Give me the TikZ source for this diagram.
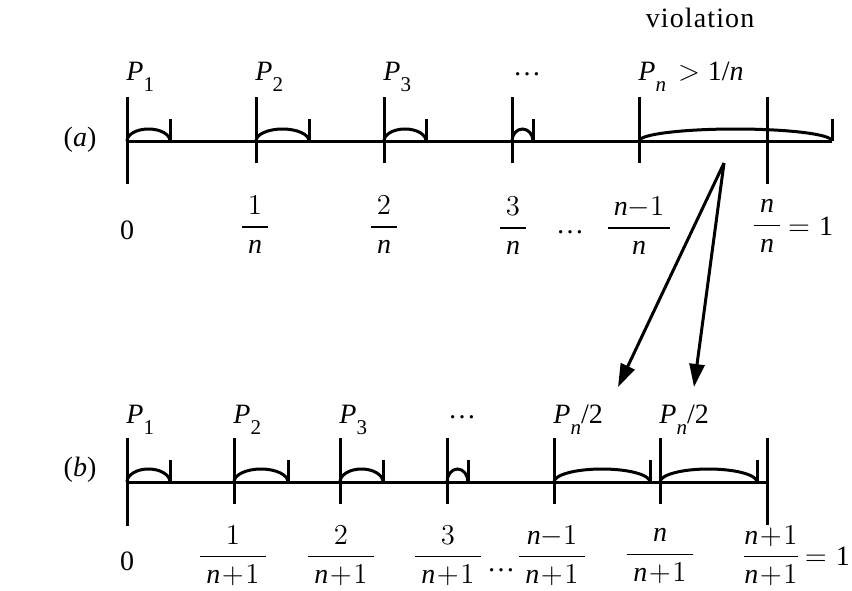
\documentclass[tikz,border=0pt]{standalone}
\usepackage{amsmath}
\usepackage{fontspec}
\setmainfont{Liberation Serif}
\usepackage{tikz}
\usetikzlibrary{arrows.meta, positioning}

\newcommand{\vn}{\textit{n}}
\newcommand{\np}{\vn\mkern1mu{+}\mkern1mu1}
\newcommand{\Psub}[1]{\textit{P}\raisebox{-0.42em}{\fontsize{10.5}{10.5}\selectfont #1}}
\newcommand{\fr}[2]{\dfrac{\hspace{3pt}#1\hspace{3pt}}{\hspace{3pt}#2\hspace{3pt}}}

\begin{document}
\begin{tikzpicture}[
    x=0.5pt, y=-0.5pt,
    axis/.style={line width=1.5pt},
    tick/.style={line width=1.5pt},
    hump/.style={line width=1.5pt},
    lbl/.style={font=\fontsize{14}{16}\selectfont, inner sep=0pt},
    link/.style={line width=1.5pt, -{Triangle[length=11.5pt, width=7.5pt]}}
]
    \useasboundingbox (0,0) rectangle (852,590);

    % (a) n equal cells, the last one overflows
    \draw[axis] (127,141) -- (832,141);
    \foreach \x in {127,256,384,512,639,767} \draw[tick] (\x,97) -- (\x,163);
    \draw[tick] (127,163) -- (127,184);
    \draw[tick] (767,163) -- (767,184);
    \foreach \a/\b in {127/170, 256/309, 384/426, 512/533, 639/832} {
        \draw[tick] (\b,119) -- (\b,141);
        \draw[hump] (\a,141) arc[start angle=180, end angle=360, x radius={(\b-\a)/2}, y radius=12];
    }

    \node[lbl] (caseA) at (80,140) {(\textit{a})};
    \node[lbl, anchor=base west] (pa1) at (126,80) {\Psub{1}};
    \node[lbl, anchor=base west] (pa2) at (255,80) {\Psub{2}};
    \node[lbl, anchor=base west] (pa3) at (383,80) {\Psub{3}};
    \node[lbl, anchor=base] (dotsA) at (527,75) {\dots};
    \node[lbl, anchor=base west] (pan) at (638,80) {\Psub{\vn}\hspace{6pt}$>$\hspace{4pt}1/\vn};
    \node[lbl, anchor=base] (viol) at (700,27) {\addfontfeature{LetterSpace=4}violation};

    \node[lbl] (fa0) at (127,230) {0};
    \node[lbl] (fa1) at (255,225) {$\fr{1}{\vn}$};
    \node[lbl] (fa2) at (384,225) {$\fr{2}{\vn}$};
    \node[lbl] (fa3) at (513,226) {$\fr{3}{\vn}$};
    \node[lbl, anchor=base] (fadots) at (570,233) {\dots};
    \node[lbl] (fan1) at (639,226) {$\fr{\vn{-}1}{\vn}$};
    \node[lbl] (fan) at (767,226) {$\fr{\vn}{\vn}$};
    \node[lbl, right=2.5pt of fan] (eqA) {$=$\hspace{4.5pt}1};

    % split arrows
    \coordinate (split) at (724,163);
    \coordinate (halfL) at (618,387);
    \coordinate (halfR) at (694,387);
    \draw[link] (split) -- (halfL);
    \draw[link] (split) -- (halfR);

    % (b) n+1 cells, P_n halved
    \draw[axis] (127,482) -- (767,482);
    \foreach \x in {127,234,340,447,554,660,767} \draw[tick] (\x,438) -- (\x,504);
    \draw[tick] (127,504) -- (127,526);
    \draw[tick] (767,504) -- (767,525);
    \foreach \a/\b in {127/170, 234/288, 340/383, 447/468, 554/650, 660/757} {
        \draw[tick] (\b,460) -- (\b,482);
        \draw[hump] (\a,482) arc[start angle=180, end angle=360, x radius={(\b-\a)/2}, y radius=13];
    }

    \node[lbl] (caseB) at (80,470) {(\textit{b})};
    \node[lbl, anchor=base west] (pb1) at (126,423) {\Psub{1}};
    \node[lbl, anchor=base west] (pb2) at (233,423) {\Psub{2}};
    \node[lbl, anchor=base west] (pb3) at (339,423) {\Psub{3}};
    \node[lbl, anchor=base] (dotsB) at (462,418) {\dots};
    \node[lbl, anchor=base west] (pbl) at (553,423) {\Psub{\vn}/2};
    \node[lbl, anchor=base west] (pbr) at (659,423) {\Psub{\vn}/2};

    \node[lbl] (fb0) at (127,561) {0};
    \node[lbl] (fb1) at (233,556) {$\fr{1}{\np}$};
    \node[lbl] (fb2) at (341,556) {$\fr{2}{\np}$};
    \node[lbl] (fb3) at (448,556) {$\fr{3}{\np}$};
    \node[lbl, anchor=base] (fbdots) at (501,571) {\dots};
    \node[lbl] (fbn1) at (552,556) {$\fr{\vn{-}1}{\np}$};
    \node[lbl] (fbn) at (660,556) {$\fr{\vn}{\np}$};
    \node[lbl] (fbn2) at (771,556) {$\dfrac{\np}{\np}$};
    \node[lbl, right=2pt of fbn2] (eqB) {$=$\hspace{4.5pt}1};
\end{tikzpicture}
\end{document}
